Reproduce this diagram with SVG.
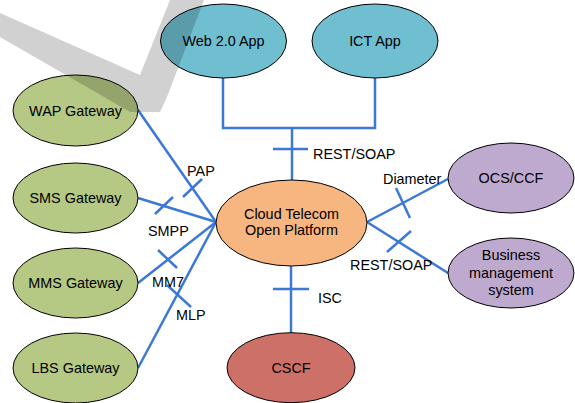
<svg xmlns="http://www.w3.org/2000/svg" width="575" height="403" viewBox="0 0 575 403">
  <style>
    .node ellipse { stroke: #000; stroke-width: 1; }
    .node text, .label { font-family: "Liberation Sans", Arial, sans-serif; font-size: 14.4px; fill: #000; }
    .node text { text-anchor: middle; }
    .green { fill: #b5c985; }
    .blue { fill: #6fbfd1; }
    .orange { fill: #f7b57f; }
    .purple { fill: #bfaacf; }
    .red { fill: #cd7068; }
    #connectors line, #connectors polyline { stroke: #3c78d8; stroke-width: 2.5; fill: none; }
  </style>
  <rect width="575" height="403" fill="#fff"/>

  <!-- connectors -->
  <g id="connectors">
    <polyline points="223,78 223,128 375,128 375,78"/>
    <line x1="292" y1="128" x2="292" y2="180"/>
    <line x1="273" y1="149" x2="308" y2="149"/>

    <line x1="138" y1="110" x2="216" y2="222"/>
    <line x1="183" y1="197" x2="202" y2="179"/>

    <line x1="138" y1="198" x2="216" y2="222"/>
    <line x1="155" y1="214" x2="173" y2="197"/>

    <line x1="138" y1="283" x2="216" y2="222"/>
    <line x1="158" y1="250" x2="177" y2="268"/>

    <line x1="138" y1="368" x2="216" y2="222"/>
    <line x1="167" y1="285" x2="191" y2="307"/>

    <line x1="367" y1="222" x2="448" y2="179"/>
    <line x1="396" y1="188" x2="410" y2="218"/>

    <line x1="367" y1="222" x2="448" y2="273"/>
    <line x1="387" y1="252" x2="411" y2="231"/>

    <line x1="291" y1="266" x2="291" y2="333"/>
    <line x1="273" y1="289" x2="309" y2="289"/>
  </g>

  <!-- interface labels -->
  <g id="labels">
    <text class="label" x="313" y="159">REST/SOAP</text>
    <text class="label" x="187" y="176">PAP</text>
    <text class="label" x="148" y="236">SMPP</text>
    <text class="label" x="152" y="287">MM7</text>
    <text class="label" x="176" y="320">MLP</text>
    <text class="label" x="383" y="184">Diameter</text>
    <text class="label" x="350" y="270">REST/SOAP</text>
    <text class="label" x="318" y="303">ISC</text>
  </g>

  <!-- nodes -->
  <g id="web20" class="node">
    <ellipse class="blue" cx="223.5" cy="41" rx="63" ry="37"/>
    <text x="223.5" y="46">Web 2.0 App</text>
  </g>
  <g id="ict" class="node">
    <ellipse class="blue" cx="375" cy="41" rx="63" ry="37"/>
    <text x="375" y="46">ICT App</text>
  </g>
  <g id="wap" class="node">
    <ellipse class="green" cx="75.5" cy="110.5" rx="62.5" ry="35.5"/>
    <text x="75.5" y="115.5">WAP Gateway</text>
  </g>
  <g id="sms" class="node">
    <ellipse class="green" cx="75.5" cy="198" rx="62.5" ry="35"/>
    <text x="75.5" y="203">SMS Gateway</text>
  </g>
  <g id="mms" class="node">
    <ellipse class="green" cx="75.5" cy="283" rx="62.5" ry="35"/>
    <text x="75.5" y="288">MMS Gateway</text>
  </g>
  <g id="lbs" class="node">
    <ellipse class="green" cx="75.5" cy="368" rx="62.5" ry="35"/>
    <text x="75.5" y="373">LBS Gateway</text>
  </g>
  <g id="platform" class="node">
    <ellipse class="orange" cx="291.5" cy="223" rx="75.5" ry="43"/>
    <text x="291.5" y="219">Cloud Telecom</text>
    <text x="291.5" y="235">Open Platform</text>
  </g>
  <g id="ocs" class="node">
    <ellipse class="purple" cx="511" cy="178" rx="63" ry="35"/>
    <text x="511" y="183">OCS/CCF</text>
  </g>
  <g id="bms" class="node">
    <ellipse class="purple" cx="511" cy="273" rx="63" ry="35"/>
    <text x="511" y="260">Business</text>
    <text x="511" y="278">management</text>
    <text x="511" y="295">system</text>
  </g>
  <g id="cscf" class="node">
    <ellipse class="red" cx="291" cy="367.7" rx="64" ry="35"/>
    <text x="291" y="372.7">CSCF</text>
  </g>

  <!-- translucent check-mark stroke laid over the top-left corner -->
  <polygon points="0,13 140,75 170,0 204,0 167,97 160,112 130,112 0,37" fill="#000" fill-opacity="0.18"/>
</svg>
